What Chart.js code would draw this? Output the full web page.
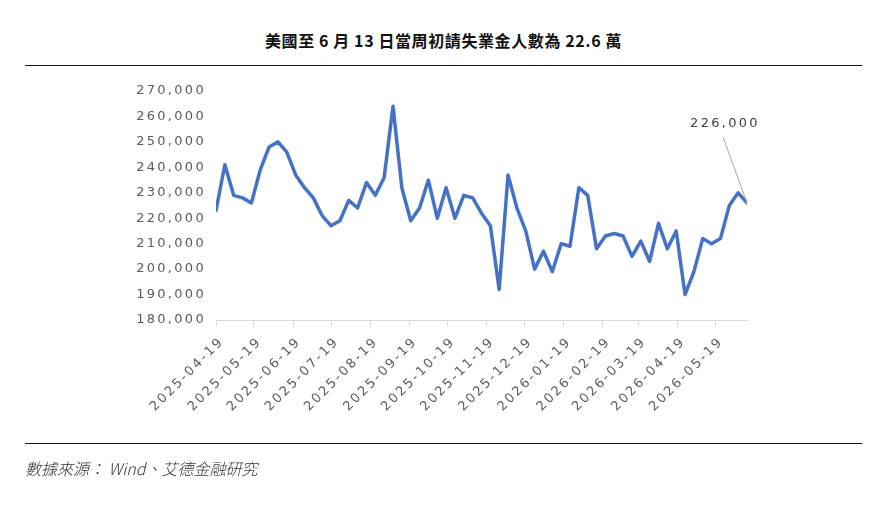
<!DOCTYPE html>
<html>
<head>
<meta charset="utf-8">
<script src="https://cdn.jsdelivr.net/npm/chart.js@4"></script>
<style>
  body { margin: 0; background: #fff; }
  #wrap { position: relative; width: 887px; height: 505px; overflow: hidden; }
  #myChart { position: absolute; left: 0; top: 0; }
  .title { position: absolute; left: 0; width: 887px; top: 29px; text-align: center; letter-spacing: 0.6px;
    font-family: "Noto Sans CJK TC", sans-serif; font-size: 16px; font-weight: bold; color: #111; line-height: 22px; }
  .rule { position: absolute; left: 25px; width: 837px; height: 1px; background: #111; }
  .source { position: absolute; left: 25px; top: 458px; font-family: "Noto Sans CJK TC", sans-serif;
    font-style: italic; font-size: 16px; font-weight: 300; color: #333; line-height: 20px; }
</style>
</head>
<body>
<div id="wrap">
  <div class="title">美國至 6 月 13 日當周初請失業金人數為 22.6 萬</div>
  <div class="rule" style="top:65px"></div>
  <canvas id="myChart" width="887" height="505"></canvas>
  <div class="rule" style="top:443px"></div>
  <div class="source">數據來源： Wind、艾德金融研究</div>
</div>
<script>
// weekly dates (week ending)
var weeks = [
  '2025-04-19','2025-04-26','2025-05-03','2025-05-10','2025-05-17','2025-05-24','2025-05-31',
  '2025-06-07','2025-06-14','2025-06-21','2025-06-28','2025-07-05','2025-07-12','2025-07-19',
  '2025-07-26','2025-08-02','2025-08-09','2025-08-16','2025-08-23','2025-08-30','2025-09-06',
  '2025-09-13','2025-09-20','2025-09-27','2025-10-04','2025-10-11','2025-10-18','2025-10-25',
  '2025-11-01','2025-11-08','2025-11-15','2025-11-22','2025-11-29','2025-12-06','2025-12-13',
  '2025-12-20','2025-12-27','2026-01-03','2026-01-10','2026-01-17','2026-01-24','2026-01-31',
  '2026-02-07','2026-02-14','2026-02-21','2026-02-28','2026-03-07','2026-03-14','2026-03-21',
  '2026-03-28','2026-04-04','2026-04-11','2026-04-18','2026-04-25','2026-05-02','2026-05-09',
  '2026-05-16','2026-05-23','2026-05-30','2026-06-06','2026-06-13'
];
var claims = [
  223000, 241000, 229000, 228000, 226000, 239000, 248000, 250000, 246000, 237000,
  232000, 228000, 221000, 217000, 219000, 227000, 224000, 234000, 229000, 236000,
  264000, 232000, 219000, 224000, 235000, 220000, 232000, 220000, 229000, 228000,
  222000, 217000, 192000, 237000, 224000, 215000, 200000, 207000, 199000, 210000,
  209000, 232000, 229000, 208000, 213000, 214000, 213000, 205000, 211000, 203000,
  218000, 208000, 215000, 190000, 199000, 212000, 210000, 212000, 225000, 230000,
  226000
];
var tickLabels = [
  '2025-04-19','2025-05-19','2025-06-19','2025-07-19','2025-08-19','2025-09-19','2025-10-19',
  '2025-11-19','2025-12-19','2026-01-19','2026-02-19','2026-03-19','2026-04-19','2026-05-19'
];
var yMin = 180000, yMax = 270000, yStep = 10000;

var DAY = 86400000;
function dayOf(d) { return (Date.parse(d) - Date.parse(weeks[0])) / DAY; }

var points = [];
for (var i = 0; i < weeks.length; i++) {
  points.push({ x: dayOf(weeks[i]), y: claims[i] });
}

var tickFont = { family: '"DejaVu Sans", sans-serif', size: 13 };
var tickColor = '#5a5a5a';

var spacing = {
  id: 'spacing',
  beforeUpdate: function (chart) { chart.ctx.letterSpacing = '2.3px'; },
  beforeDraw: function (chart) { chart.ctx.letterSpacing = '2.3px'; }
};

// label for the latest value
var lastLabel = {
  id: 'lastLabel',
  afterDatasetsDraw: function (chart) {
    var meta = chart.getDatasetMeta(0);
    var pt = meta.data[meta.data.length - 1];
    var c = chart.ctx;
    c.save();
    c.strokeStyle = '#a6a6a6';
    c.lineWidth = 1;
    c.beginPath();
    c.moveTo(pt.x, pt.y);
    c.lineTo(pt.x - 24, pt.y - 66);
    c.stroke();
    c.fillStyle = '#404040';
    c.font = '13px "DejaVu Sans", sans-serif';
    c.textAlign = 'center';
    c.textBaseline = 'middle';
    c.fillText(claims[claims.length - 1].toLocaleString('en-US'), pt.x - 22, pt.y - 79);
    c.restore();
  }
};

const ctx = document.getElementById('myChart');
var chart = new Chart(ctx, {
  type: 'line',
  data: {
    datasets: [{
      label: 'claims',
      data: points,
      borderColor: '#4472C4',
      borderWidth: 3.5,
      pointRadius: 0,
      tension: 0,
      borderJoinStyle: 'round',
      borderCapStyle: 'round'
    }]
  },
  options: {
    responsive: false,
    animation: false,
    layout: { padding: { top: 91, right: 140, bottom: 0, left: 0 } },
    plugins: { legend: { display: false }, tooltip: { enabled: false } },
    scales: {
      x: {
        type: 'linear',
        min: 0,
        max: dayOf(weeks[weeks.length - 1]),
        afterBuildTicks: function (scale) {
          scale.ticks = tickLabels.map(function (t) { return { value: dayOf(t) }; });
        },
        afterFit: function (scale) { scale.height = 185; },
        grid: { display: true, drawOnChartArea: false, drawTicks: true, tickLength: 6, color: '#d9d9d9' },
        border: { display: true, color: '#d9d9d9', width: 1 },
        ticks: {
          autoSkip: false,
          maxRotation: 45,
          minRotation: 45,
          padding: 8,
          labelOffset: 6,
          color: tickColor,
          font: tickFont,
          callback: function (v, idx) { return tickLabels[idx]; }
        }
      },
      y: {
        min: yMin,
        max: yMax,
        afterFit: function (scale) { scale.width = 216; },
        grid: { display: false },
        border: { display: false },
        ticks: {
          stepSize: yStep,
          padding: 2,
          color: tickColor,
          font: tickFont,
          callback: function (v) { return v.toLocaleString('en-US'); }
        }
      }
    }
  },
  plugins: [spacing, lastLabel]
});
</script>
</body>
</html>
